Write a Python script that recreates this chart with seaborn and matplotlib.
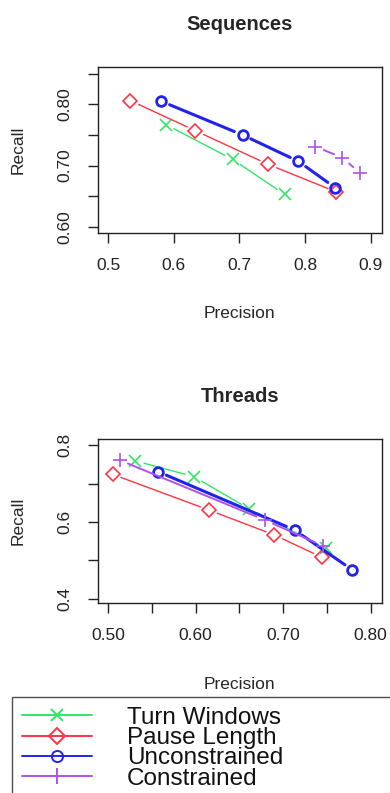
import numpy as np
import pandas as pd
import matplotlib
matplotlib.use("Agg")
import matplotlib.pyplot as plt
from matplotlib.lines import Line2D
import seaborn as sns

# ---------------- data ----------------
series = ["Turn Windows", "Pause Length", "Unconstrained", "Constrained"]

seq_tw_x = [0.588, 0.690, 0.769]
seq_tw_y = [0.767, 0.710, 0.653]
seq_pl_x = [0.534, 0.633, 0.744, 0.848]
seq_pl_y = [0.806, 0.757, 0.702, 0.657]
seq_un_x = [0.581, 0.705, 0.790, 0.846]
seq_un_y = [0.805, 0.750, 0.707, 0.664]
seq_co_x = [0.816, 0.857, 0.884]
seq_co_y = [0.731, 0.713, 0.688]

thr_tw_x = [0.531, 0.598, 0.661, 0.749]
thr_tw_y = [0.759, 0.718, 0.634, 0.531]
thr_pl_x = [0.505, 0.615, 0.690, 0.744]
thr_pl_y = [0.724, 0.631, 0.566, 0.508]
thr_un_x = [0.557, 0.713, 0.779]
thr_un_y = [0.731, 0.579, 0.475]
thr_co_x = [0.513, 0.679, 0.746]
thr_co_y = [0.761, 0.605, 0.537]

seq_xticks = [0.5, 0.6, 0.7, 0.8, 0.9]
seq_xlabels = ["0.5", "0.6", "0.7", "0.8", "0.9"]
seq_yticks = [0.60, 0.65, 0.70, 0.75, 0.80, 0.85]
seq_ylabels = ["0.60", "", "0.70", "", "0.80", ""]
thr_xticks = [0.50, 0.55, 0.60, 0.65, 0.70, 0.75, 0.80]
thr_xlabels = ["0.50", "", "0.60", "", "0.70", "", "0.80"]
thr_yticks = [0.4, 0.5, 0.6, 0.7, 0.8]
thr_ylabels = ["0.4", "", "0.6", "", "0.8"]

# ---------------- style ----------------
sns.set_style("white")
plt.rcParams["font.family"] = ["Liberation Sans", "DejaVu Sans"]

colors = {"Turn Windows": "#33e566", "Pause Length": "#ff3344",
          "Unconstrained": "#2222ee", "Constrained": "#b050f0"}
markers = {"Turn Windows": "x", "Pause Length": "D",
           "Unconstrained": "o", "Constrained": "+"}
msize = {"Turn Windows": 8, "Pause Length": 7.5,
         "Unconstrained": 7, "Constrained": 10}
mew = {"Turn Windows": 1.2, "Pause Length": 1.2,
       "Unconstrained": 2.0, "Constrained": 1.2}
lw = {"Turn Windows": 1.0, "Pause Length": 1.0,
      "Unconstrained": 2.2, "Constrained": 1.4}

W, H = 390, 793
fig = plt.figure(figsize=(W / 100, H / 100), dpi=100)


def add_axes_px(left, top, right, bottom):
    return fig.add_axes([left / W, 1 - bottom / H, (right - left) / W, (bottom - top) / H])


GAP = 9.0  # px gap around points (R type="b")


def draw_series(ax, name, xs, ys):
    c = colors[name]
    # gapped segments like R type="b"
    pts = ax.transData.transform(np.column_stack([xs, ys]))
    inv = ax.transData.inverted()
    for i in range(len(pts) - 1):
        p0, p1 = pts[i], pts[i + 1]
        d = p1 - p0
        L = np.hypot(*d)
        if L <= 2 * GAP:
            continue
        u = d / L
        a = inv.transform(p0 + u * GAP)
        b = inv.transform(p1 - u * GAP)
        sns.lineplot(x=[a[0], b[0]], y=[a[1], b[1]], ax=ax, color=c, lw=lw[name],
                     sort=False, legend=False, estimator=None)
    df = pd.DataFrame({"x": xs, "y": ys})
    sns.lineplot(data=df, x="x", y="y", ax=ax, sort=False, estimator=None,
                 linestyle="", marker=markers[name], markersize=msize[name],
                 markerfacecolor="none", markeredgecolor=c, color=c,
                 markeredgewidth=mew[name], legend=False)


def style_axes(ax, title, xlim, ylim, xt, xl, yt, yl):
    ax.set_xlim(*xlim)
    ax.set_ylim(*ylim)
    ax.set_xticks(xt)
    ax.set_xticklabels(xl)
    ax.set_yticks(yt)
    ax.set_yticklabels(yl, rotation=90, va="center")
    for s in ax.spines.values():
        s.set_visible(True)
        s.set_color("#222222")
        s.set_linewidth(1.0)
    ax.tick_params(axis="both", direction="out", length=7, width=1.0,
                   color="#222222", labelsize=12.5, labelcolor="#222222",
                   bottom=True, left=True)
    ax.tick_params(axis="x", pad=11)
    ax.tick_params(axis="y", pad=11)
    ax.set_title(title, fontsize=14.5, fontweight="bold", pad=27)
    ax.set_xlabel("Precision", fontsize=12.5, labelpad=24)
    ax.set_ylabel("Recall", fontsize=12.5, labelpad=23)


ax1 = add_axes_px(97.7, 67, 381.7, 233)
ax1.set_xlim(0.484, 0.917)
ax1.set_ylim(0.590, 0.861)
ax2 = add_axes_px(97.7, 439, 381.7, 603.3)
ax2.set_xlim(0.488, 0.8126)
ax2.set_ylim(0.388, 0.816)

seq = {"Turn Windows": (seq_tw_x, seq_tw_y), "Pause Length": (seq_pl_x, seq_pl_y),
       "Unconstrained": (seq_un_x, seq_un_y), "Constrained": (seq_co_x, seq_co_y)}
thr = {"Turn Windows": (thr_tw_x, thr_tw_y), "Pause Length": (thr_pl_x, thr_pl_y),
       "Unconstrained": (thr_un_x, thr_un_y), "Constrained": (thr_co_x, thr_co_y)}

for name in series:
    draw_series(ax1, name, *seq[name])
    draw_series(ax2, name, *thr[name])

style_axes(ax1, "Sequences", (0.484, 0.917), (0.590, 0.861),
           seq_xticks, seq_xlabels, seq_yticks, seq_ylabels)
style_axes(ax2, "Threads", (0.488, 0.8126), (0.388, 0.816),
           thr_xticks, thr_xlabels, thr_yticks, thr_ylabels)

handles = [Line2D([0], [0], color=colors[n], lw=1.4, marker=markers[n],
                  markersize=msize[n] + 1, markerfacecolor="none",
                  markeredgecolor=colors[n], markeredgewidth=1.4) for n in series]
leg = fig.legend(handles, series, loc="upper left",
                 bbox_to_anchor=(12 / W, 0, 420 / W, 1 - 697 / H), mode="expand",
                 fontsize=17.5, labelspacing=-0.07, handlelength=2.88,
                 handletextpad=1.44, borderpad=0.4, borderaxespad=0,
                 fancybox=False, frameon=True)
leg.get_frame().set_edgecolor("#222222")
leg.get_frame().set_linewidth(1.0)
for t in leg.get_texts():
    t.set_color("#111111")

fig.savefig("out.png", dpi=100, facecolor="white")
